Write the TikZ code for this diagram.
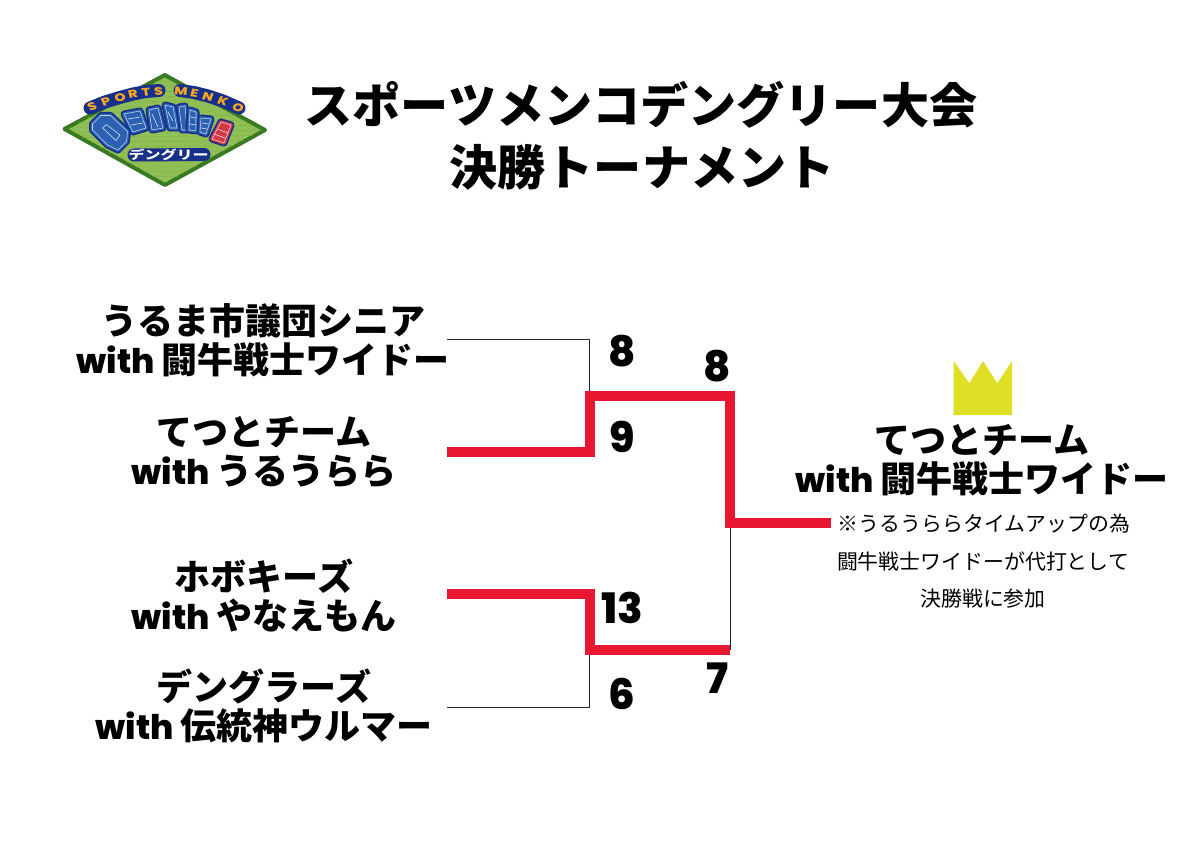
\documentclass[tikz,border=0pt]{standalone}
\usepackage{fontspec}
\setmainfont{Poppins}[UprightFont=* ExtraBold,BoldFont=* ExtraBold]
\newfontfamily\cjk{Noto Sans CJK JP Black}
\newfontfamily\cjkreg{Noto Sans CJK JP}
\newfontfamily\digit{Poppins ExtraBold}
\newcommand{\wth}{{\digit\fontsize{34}{39}\selectfont with }}
\definecolor{redline}{HTML}{E91632}
\definecolor{crowncol}{HTML}{DFDF25}
\definecolor{turf}{HTML}{8FBF55}
\definecolor{turfline}{HTML}{84B24C}
\definecolor{rim}{HTML}{3A7A22}
\definecolor{navy}{HTML}{17308C}
\definecolor{blk}{HTML}{2B60B2}
\definecolor{blkred}{HTML}{D13A48}
\definecolor{gold}{HTML}{F6A623}
\newcommand{\logoblk}[2]{%
  \draw[navy,line width=7pt,line join=round] #2;
  \fill[#1] #2;
  \draw[#1,line width=3.6pt,line join=round] #2;
  \draw[white!75!#1,line width=0.55pt,line join=round] #2;}
\newcommand{\gl}[4]{\node[goldtxt,rotate=#4] (#3) at (#2) {#1};}
\begin{document}
\begin{tikzpicture}[x=1pt,y=-1pt,
  thinline/.style={draw=black!85,line width=0.8pt},
  winner/.style={draw=redline,line width=10pt,line join=miter},
  title/.style={font=\cjk\fontsize{48.1}{54}\selectfont,align=center,inner sep=0},
  team/.style={font=\cjk\fontsize{36}{39}\selectfont,align=center,inner sep=0},
  score/.style={font=\digit\fontsize{42}{42}\selectfont,inner sep=0},
  note/.style={font=\cjkreg\fontsize{20.9}{24}\selectfont,inner sep=0},
  goldtxt/.style={font=\digit\fontsize{11}{11}\selectfont,text=gold,inner sep=0,xscale=1.3},
  barw/.style={white!80!blk,line width=0.6pt}]
\useasboundingbox (0,0) rectangle (1191,842);
\node[title] (t1) at (641,105) {スポーツメンコデングリー大会};
\node[title] (t2) at (642,167) {決勝トーナメント};
\node[team] (a) at (263,340) {うるま市議団シニア\\\wth 闘牛戦士ワイドー};
\node[team] (b) at (264,452) {てつとチーム\\\wth うるうらら};
\node[team] (c) at (264,596) {ホボキーズ\\\wth やなえもん};
\node[team] (d) at (264,706) {デングラーズ\\\wth 伝統神ウルマー};
\node[team] (w) at (982,460) {てつとチーム\\\wth 闘牛戦士ワイドー};
\node[score] (s1) at (622,351) {8};
\node[score] (s2) at (717,366) {8};
\node[score] (s3) at (622,437) {9};
\node[score] (s4) at (622,608) {13};
\node[score] (s5) at (717,678) {7};
\node[score] (s6) at (622,694) {6};
\node[note] (n1) at (984,524) {※うるうららタイムアップの為};
\node[note] (n2) at (983,562) {闘牛戦士ワイドーが代打として};
\node[note] (n3) at (983,599) {決勝戦に参加};
\coordinate (ta) at (447,339); \coordinate (td) at (447,707);
\coordinate (tb) at (447,452); \coordinate (tc) at (447,593.7);
\coordinate (end) at (831,522.7);
\draw[thinline] (ta) -- (589.3,339) -- (589.3,392);
\draw[thinline] (td) -- (589.3,707) -- (589.3,650);
\draw[thinline] (730,522) -- (730,650);
\draw[winner] (tb) -- (590,452) -- (590,396) -- (730,396) -- (730,522.7) -- (end);
\draw[winner] (tc) -- (590,593.7) -- (590,649.7) -- (730.3,649.7);
\fill[crowncol] (953.7,415) -- (953.7,361) -- (969.3,383.3) -- (983,361) -- (997.3,383.3) -- (1012,361) -- (1012,415) -- cycle;
% logo: turf
\draw[rim,fill=turf,line width=4pt,line join=round] (164.8,75) -- (265,130) -- (165,185) -- (64.5,129) -- cycle;
\begin{scope}
\clip (164.8,77) -- (262,130) -- (165,183) -- (67,129) -- cycle;
\foreach \yy in {78,83,...,183} \draw[turfline,line width=0.5pt] (60,\yy) -- (270,\yy-3);
\end{scope}
% logo: arched lettering
\draw[navy,line width=13pt,line join=round,line cap=round] (90,108) -- (105,102) -- (120,97.5) -- (133,94) -- (146,91.5) -- (159,90.5);
\draw[navy,line width=13pt,line join=round,line cap=round] (180,90.5) -- (194,92.5) -- (208,96) -- (223,101) -- (239,108);
\gl{S}{92,107}{l1}{22}
\gl{P}{106,102}{l2}{18}
\gl{O}{120,98}{l3}{14}
\gl{R}{133,94.5}{l4}{10}
\gl{T}{146,92}{l5}{7}
\gl{S}{158.5,91}{l6}{3}
\gl{M}{181,91}{l7}{-6}
\gl{E}{194.5,93}{l8}{-11}
\gl{N}{208,96.5}{l9}{-15}
\gl{K}{223,101.5}{l10}{-20}
\gl{O}{238,108}{l11}{-25}
% logo: big blocks, right to left overlap order
\logoblk{blk}{(179,107) -- (185,106) -- (187,130) -- (182,130) -- cycle}
\logoblk{blk}{(165,105) -- (173,107) -- (177,128) -- (170,128) -- cycle}
\draw[barw] (168,112) -- (173,121);
\logoblk{blk}{(149,110) -- (158,108) -- (163,128) -- (152,130) -- cycle}
\draw[barw] (152,114) -- (158,127);
\logoblk{blk}{(190,110) -- (196,112) -- (196,131) -- (189,130) -- cycle}
\draw[barw] (190,117) -- (196,118);
\draw[barw] (190,124) -- (196,125);
\logoblk{blk}{(201,118) -- (211,119) -- (206,134) -- (200,132) -- cycle}
\draw[barw] (202,123) -- (209,124);
\draw[barw] (201,128) -- (207,129);
\logoblk{blkred}{(221,122) -- (231,125) -- (224,143) -- (212,139) -- cycle}
\draw[white!80!blkred,line width=0.6pt] (217,129) -- (228,133);
\draw[white!80!blkred,line width=0.6pt] (214,134) -- (225,138);
\logoblk{blk}{(124,114) -- (140,111) -- (146,128) -- (133,132) -- cycle}
\draw[barw] (128,119) -- (140,117);
\draw[barw] (131,125) -- (143,123);
\logoblk{blk}{(92.5,124) -- (101,115.5) -- (110.5,115.5) -- (127.5,131.5) -- (126.5,141.5) -- (118,150) -- (107.5,145) -- (92.5,130) -- cycle}
\draw[barw,fill=blk,line join=round] (102.5,128) -- (106.5,124.5) -- (120,135) -- (116,140.5) -- cycle;
% logo: small katakana
\draw[navy,line width=13pt,line cap=round] (134,155) -- (204,154.5);
\node[font=\cjk\fontsize{16}{16}\selectfont,text=white,inner sep=0,yscale=0.75] (kana) at (168.5,154.5) {デングリー};
\end{tikzpicture}
\end{document}
